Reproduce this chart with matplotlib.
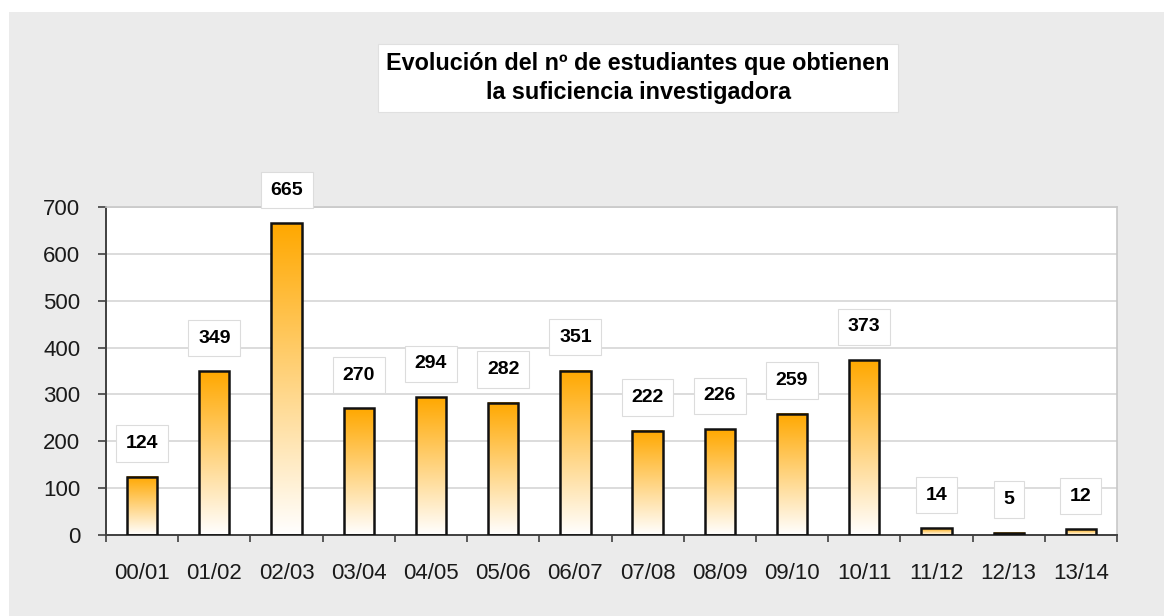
import matplotlib
matplotlib.use("Agg")
import matplotlib.pyplot as plt
import numpy as np
from matplotlib.colors import LinearSegmentedColormap
from matplotlib.patches import Rectangle

# --- data --------------------------------------------------------------------
CURSOS = ["00/01", "01/02", "02/03", "03/04", "04/05", "05/06", "06/07",
          "07/08", "08/09", "09/10", "10/11", "11/12", "12/13", "13/14"]
ESTUDIANTES = [124, 349, 665, 270, 294, 282, 351, 222, 226, 259, 373, 14, 5, 12]
TITULO = "Evolución del nº de estudiantes que obtienen\nla suficiencia investigadora"

# --- style -------------------------------------------------------------------
plt.rcParams["font.family"] = ["Liberation Sans", "DejaVu Sans"]
BG = "#ebebeb"
ORANGE = "#ffa800"
BAR_W = 0.42
cmap = LinearSegmentedColormap.from_list("grad", ["#ffffff", ORANGE])

fig = plt.figure(figsize=(11.64, 6.16), dpi=100, facecolor="white")
fig.patches.append(Rectangle((9 / 1164, 0), 1, 1 - 12 / 616, transform=fig.transFigure,
                             facecolor=BG, edgecolor="none", zorder=-10))

ax = fig.add_axes([106 / 1164, 81 / 616, 1011 / 1164, 328 / 616])
ax.set_facecolor("white")

x = np.arange(len(CURSOS))
grad = np.linspace(0, 1, 256).reshape(-1, 1)
for xi, v in zip(x, ESTUDIANTES):
    ax.imshow(grad, extent=[xi - BAR_W / 2, xi + BAR_W / 2, 0, v], aspect="auto",
              cmap=cmap, origin="lower", zorder=2, interpolation="bilinear")
ax.bar(x, ESTUDIANTES, BAR_W, facecolor="none", edgecolor="#111111", linewidth=1.8, zorder=3)

for xi, v in zip(x, ESTUDIANTES):
    ax.annotate(str(v), (xi, v), xytext=(0, 24), textcoords="offset points",
                ha="center", va="center", fontsize=14, fontweight="bold",
                bbox=dict(boxstyle="square,pad=0.5", facecolor="white",
                          edgecolor="#dcdcdc", linewidth=0.8), zorder=5,
                annotation_clip=False)

ax.set_xlim(-0.5, len(CURSOS) - 0.5)
ax.set_ylim(0, 700)
ax.set_yticks(range(0, 701, 100))
ax.yaxis.grid(True, color="#d9d9d9", linewidth=1.3, zorder=0)
ax.set_axisbelow(True)

ax.set_xticks(x)
ax.set_xticklabels(CURSOS)
ax.set_xticks(np.arange(-0.5, len(CURSOS)), minor=True)
ax.tick_params(axis="x", which="major", length=0, pad=20, labelsize=16, colors="#1a1a1a")
ax.tick_params(axis="x", which="minor", length=5, width=1.2, color="#404040")
ax.tick_params(axis="y", length=5.5, width=1.2, color="#404040", pad=13,
               labelsize=16, labelcolor="#1a1a1a")

for s in ("left", "bottom"):
    ax.spines[s].set_color("#404040")
    ax.spines[s].set_linewidth(1.4)
for s in ("top", "right"):
    ax.spines[s].set_color("#c8c8c8")
    ax.spines[s].set_linewidth(1.2)

fig.text(638 / 1164, 1 - 78 / 616, TITULO, ha="center", va="center", fontsize=16.8,
         fontweight="bold", linespacing=1.3,
         bbox=dict(boxstyle="square,pad=0.34", facecolor="white", edgecolor="#e0e0e0",
                   linewidth=0.8))

fig.savefig("out.png", dpi=100, facecolor=fig.get_facecolor())
